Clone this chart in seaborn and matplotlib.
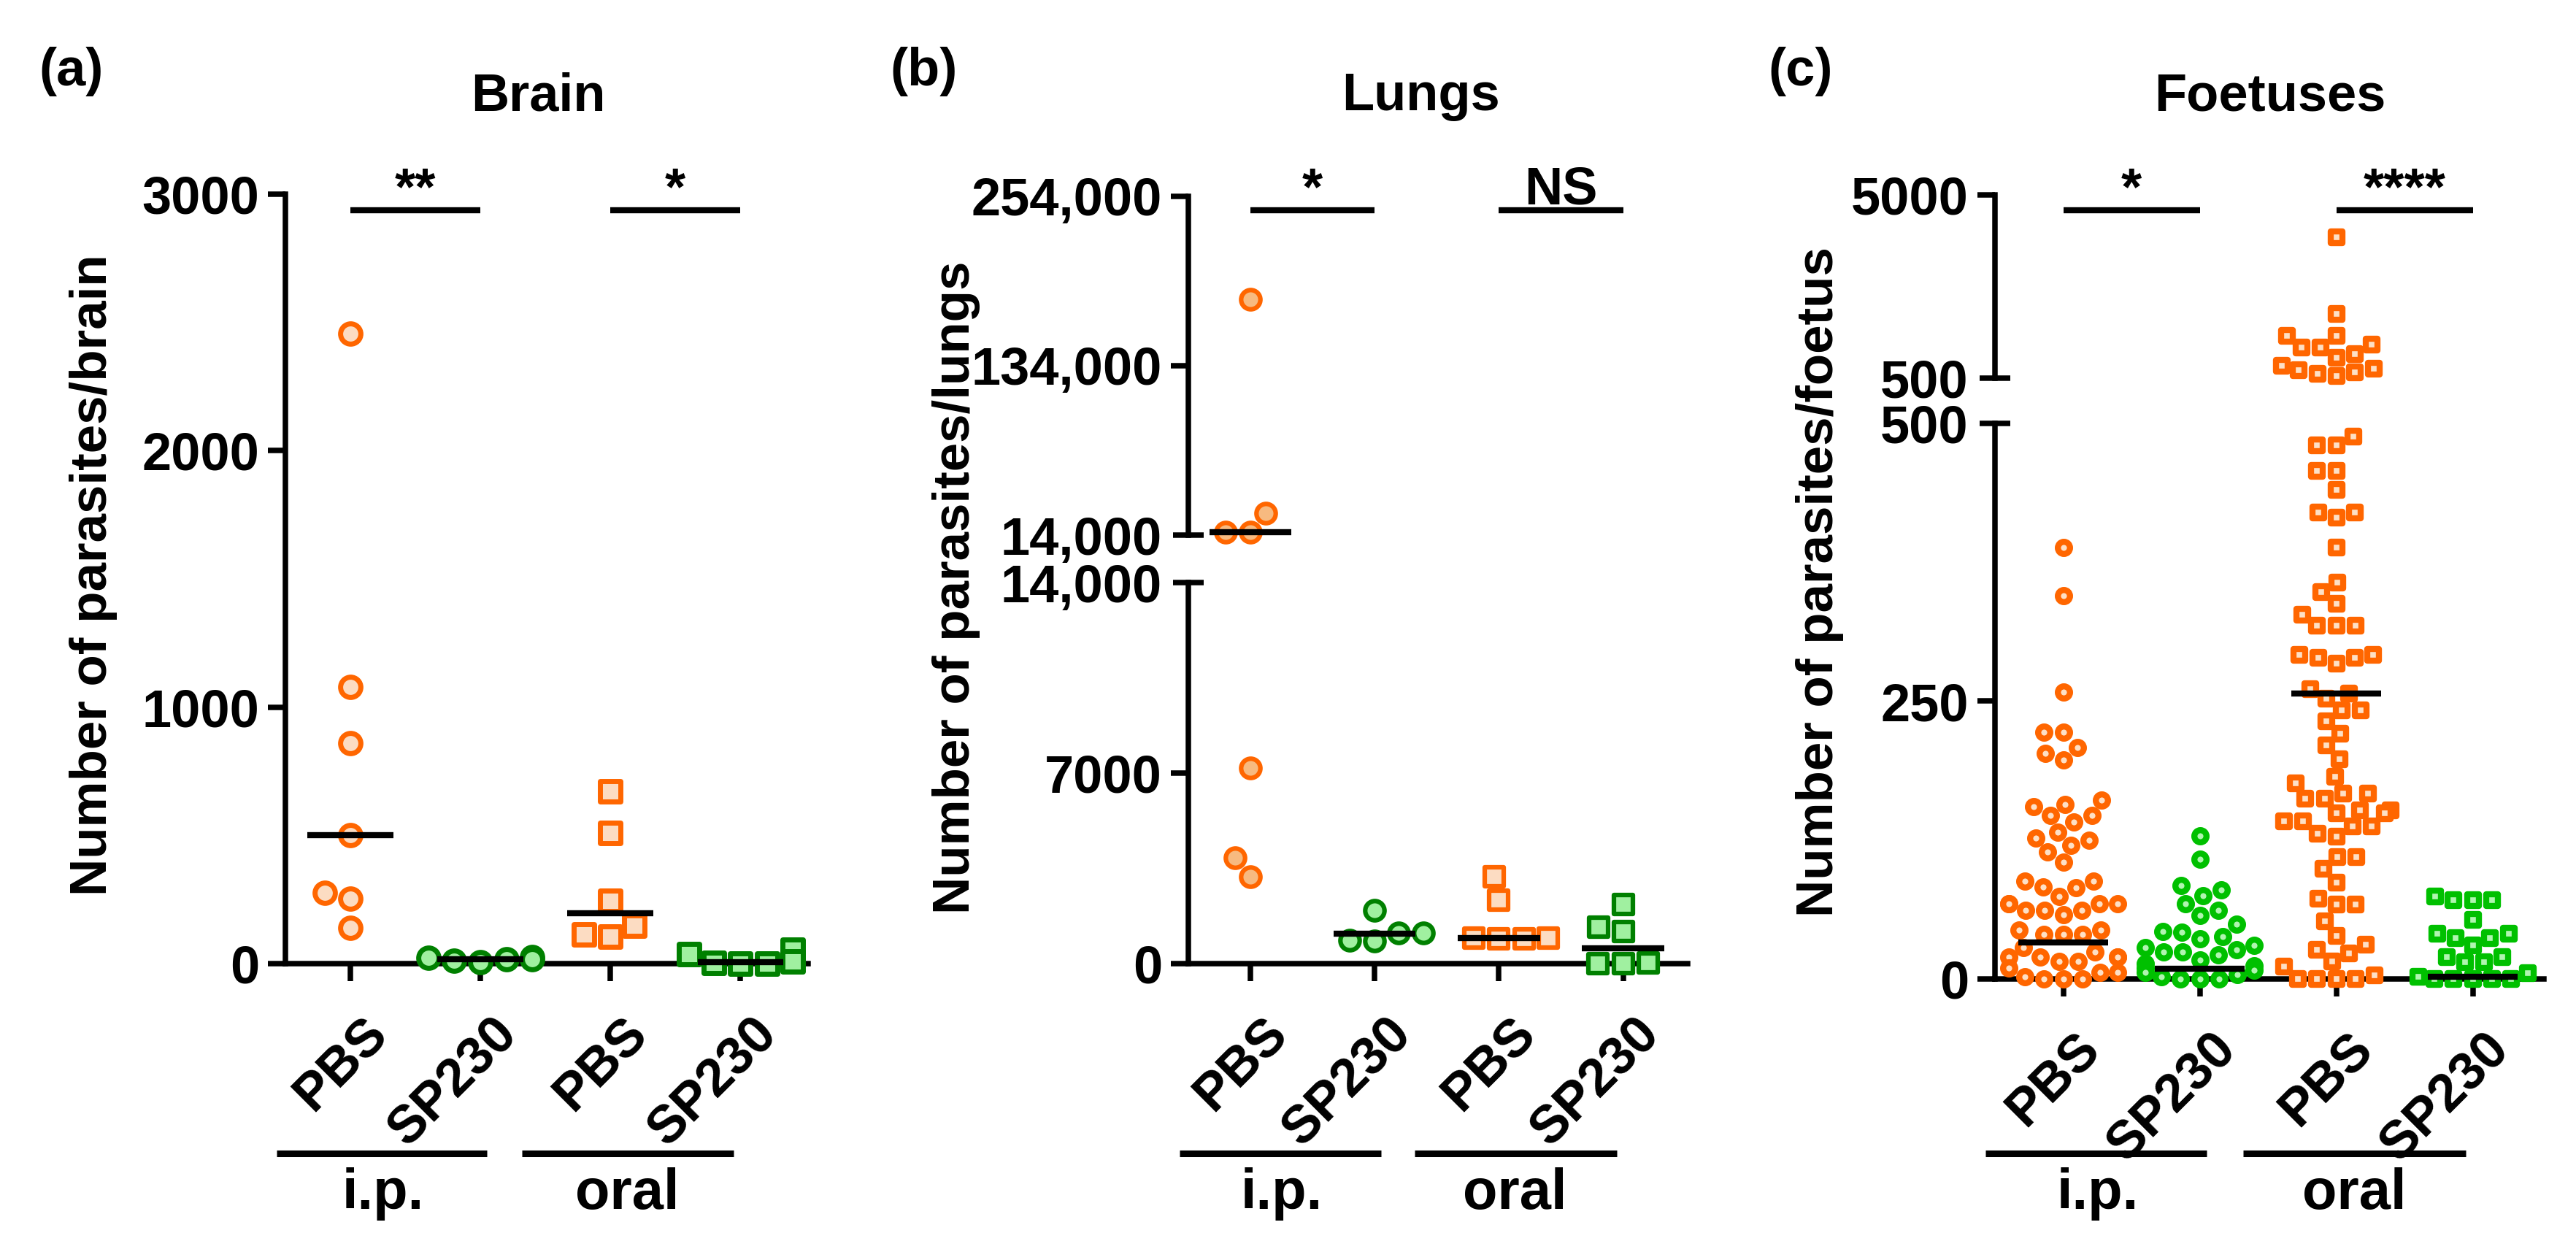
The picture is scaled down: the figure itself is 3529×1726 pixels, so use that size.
import numpy as np
import pandas as pd
import matplotlib
matplotlib.use("Agg")
import matplotlib.pyplot as plt
import matplotlib.transforms as mtransforms
import seaborn as sns

# groups in plotting order
groups = ["PBS_ip", "SP230_ip", "PBS_oral", "SP230_oral"]
tick_names = ["PBS", "SP230", "PBS", "SP230"]
routes = ["i.p.", "oral"]

# (a) brain
brain_pbs_ip = [2456, 1080, 860, 500, 276, 254, 140]
brain_sp230_ip = [27, 22, 18, 16, 12, 5]
brain_pbs_oral = [672, 510, 245, 148, 114, 105]
brain_sp230_oral = [55, 38, 8, 3, 0, 0]
brain_medians = [500, 16, 196, 5]
brain_sig = ["**", "*"]
brain_ticks = [0, 1000, 2000, 3000]

# (b) lungs (broken axis at 14,000)
lungs_pbs_ip = [181000, 29500, 16000, 16000, 7200, 3900, 3200]
lungs_sp230_ip = [1960, 1130, 1120, 870, 840]
lungs_pbs_oral = [3190, 2330, 950, 940, 910, 900]
lungs_sp230_oral = [2170, 1340, 1180, 30, 10, 0]
lungs_medians = [16000, 1100, 940, 560]
lungs_sig = ["*", "NS"]
lungs_low_ticks = [0, 7000]
lungs_high_ticks = [134000, 254000]
lungs_break = 14000

# (c) foetuses (broken axis at 500)
foetus_pbs_ip = [388, 345, 258, 222, 222, 208, 203, 197,
                 161, 157, 155, 147, 147, 141, 132, 127, 125, 120, 114, 105,
                 88, 88, 83, 82, 74, 68, 68, 68, 68, 62, 62, 62, 58,
                 44, 44, 40, 40, 40, 28, 24, 20, 20, 20, 20, 16, 16,
                 10, 6, 6, 2, 0, 0, 0]
foetus_sp230_ip = [129, 108, 84, 80, 75, 68, 62, 57, 49, 43, 42, 38, 36,
                   30, 28, 26, 24, 24, 22, 17, 14, 12, 10, 8, 6, 4, 2, 0, 0, 0]
foetus_pbs_oral = [3960, 2080, 1540, 1540, 1320, 1250, 1250, 1100, 1000,
                   800, 730, 700, 650, 600, 550,
                   488, 480, 480, 457, 457, 440, 420, 420, 415, 388,
                   357, 348, 338, 328, 318, 318, 318, 292, 292, 289, 289, 284,
                   261, 257, 252, 242, 242, 232, 221, 210, 198,
                   182, 176, 167, 167, 162, 162, 152, 152, 149, 149, 142, 142,
                   137, 137, 131, 128, 110, 110, 99, 87, 72, 67, 67, 52,
                   39, 31, 26, 23, 16, 11, 3, 0, 0, 0, 0]
foetus_sp230_oral = [74, 71, 71, 71, 53, 41, 41, 37, 37, 30, 20, 20, 15, 15,
                     5, 2, 0, 0, 0, 0, 0]
foetus_medians = [33, 9, 257, 2]
foetus_sig = ["*", "****"]
foetus_low_ticks = [0, 250]
foetus_high_ticks = [5000]
foetus_break = 500

# ---- layout helpers (pixels of the 3530x1726 canvas) ----
W, H, DPI = 3530, 1726, 100


def px_rect(left, right, top, bottom):
    return [left / W, 1 - bottom / H, (right - left) / W, (bottom - top) / H]


def fx(p):
    return p / W


def fy(p):
    return 1 - p / H


def fmt(v):
    return f"{v:,}" if v >= 10000 else f"{v}"


def make_frame(values):
    rows = []
    for g, vals in zip(groups, values):
        rows += [(g, v) for v in vals]
    return pd.DataFrame(rows, columns=["group", "value"])


sns.set_style("ticks")
plt.rcParams["font.family"] = ["Liberation Sans", "DejaVu Sans"]
plt.rcParams["font.weight"] = "bold"
plt.rcParams["axes.linewidth"] = 5.4
for key in ["text.color", "axes.labelcolor", "axes.edgecolor",
            "xtick.color", "ytick.color"]:
    plt.rcParams[key] = "black"

fig = plt.figure(figsize=(W / DPI, H / DPI), dpi=DPI)
FS = 52
LW = 5.4


def draw_panel(letter, letter_x, title, title_x, ylabel, ylab_xy, values,
               medians, sig, segs, left, right, style):
    df = make_frame(values)
    axes = []
    for k, seg in enumerate(segs):
        top, bottom, lo, hi, major, minor = seg
        ax = fig.add_axes(px_rect(left, right, top, bottom))
        if k == 0:
            sub = df[(df.value >= lo) & (df.value <= hi)]
        else:
            sub = df[(df.value > lo) & (df.value <= hi)]
        for i, g in enumerate(groups):
            part = sub[sub.group == g]
            if part.empty:
                continue
            sns.swarmplot(data=part, x="group", y="value", order=groups, ax=ax,
                          marker="o" if i < 2 else "s", size=style["ms"],
                          color=style["fills"][i], edgecolor=style["edges"][i],
                          linewidth=style["lw"], zorder=3, clip_on=False,
                          warn_thresh=1)
        ax.set_xlim(-0.5, 3.52)
        ax.set_ylim(lo, hi)
        ax.set_xlabel("")
        ax.set_ylabel("")
        sns.despine(ax=ax)
        ax.set_yticks(major)
        ax.set_yticklabels([fmt(v) for v in major])
        if minor:
            ax.set_yticks(minor, minor=True)
            ax.set_yticklabels([fmt(v) for v in minor], minor=True)
        ax.tick_params(axis="y", which="major", direction="out", length=17,
                       width=LW, pad=9, labelsize=FS, colors="black")
        ax.tick_params(axis="y", which="minor", direction="inout", length=30,
                       width=LW, pad=11, labelsize=FS, colors="black")
        if k == 0:
            ax.set_xticks(range(len(groups)))
            ax.set_xticklabels(tick_names)
            ax.tick_params(axis="x", direction="out", length=17, width=LW,
                           pad=27, labelsize=FS, colors="black")
            shift = mtransforms.ScaledTranslation(0.15, 0, fig.dpi_scale_trans)
            for lab in ax.get_xticklabels():
                lab.set_rotation(45)
                lab.set_ha("right")
                lab.set_va("top")
                lab.set_rotation_mode("anchor")
                lab.set_transform(lab.get_transform() + shift)
        else:
            ax.set_xticks([])
            ax.spines["bottom"].set_visible(False)
        axes.append(ax)

    # medians
    for i, m in enumerate(medians):
        ax = axes[0] if m <= segs[0][3] else axes[1]
        ax.hlines(m, i - 0.33, i + 0.33, color="black", lw=6, zorder=4,
                  clip_on=False)

    # significance bars above
    top_ax = axes[-1]
    trans = mtransforms.blended_transform_factory(top_ax.transData, fig.transFigure)
    for j, s in enumerate(sig):
        x0, x1 = 2 * j, 2 * j + 1
        top_ax.plot([x0, x1], [fy(288), fy(288)], transform=trans, color="black",
                    lw=6, clip_on=False, solid_capstyle="butt")
        top_ax.text((x0 + x1) / 2, fy(280), s, transform=trans, ha="center",
                    va="baseline", fontsize=FS)

    # route lines below
    bot_ax = axes[0]
    trans = mtransforms.blended_transform_factory(bot_ax.transData, fig.transFigure)
    spans = [(-0.57, 1.05), (1.32, 2.95)]
    label_x = [0.25, 2.13]
    for (x0, x1), lx, r in zip(spans, label_x, routes):
        bot_ax.plot([x0, x1], [fy(1580), fy(1580)], transform=trans,
                    color="black", lw=6.5, clip_on=False, solid_capstyle="butt")
        bot_ax.text(lx, fy(1635), r, transform=trans, ha="center", va="center",
                    fontsize=56)

    fig.text(fx(ylab_xy[0]), fy(ylab_xy[1]), ylabel, rotation=90, ha="center",
             va="center", fontsize=51)
    fig.text(fx(title_x), fy(132), title, ha="center", va="center", fontsize=FS)
    fig.text(fx(letter_x), fy(98), letter, ha="center", va="center", fontsize=FS)


orange = "#FF6600"
style_a = dict(ms=20, lw=5,
               fills=["#FCDCC2", "#A0F0A0", "#FCDCC2", "#A0F0A0"],
               edges=[orange, "#008000", orange, "#008000"])
style_b = dict(ms=19, lw=4.5,
               fills=["#F7BA80", "#A0F0A0", "#FCDCC2", "#A0F0A0"],
               edges=[orange, "#008000", orange, "#008000"])
style_c = dict(ms=12, lw=6,
               fills=["#FDE0C6", "#B0F5B0", "#FDE0C6", "#B0F5B0"],
               edges=[orange, "#00C000", orange, "#00C000"])

draw_panel("(a)", 98, "Brain", 737, "Number of parasites/brain", (128, 788),
           [brain_pbs_ip, brain_sp230_ip, brain_pbs_oral, brain_sp230_oral],
           brain_medians, brain_sig,
           [(266, 1320, 0, 3000, brain_ticks, [])],
           391, 1107, style_a)

draw_panel("(b)", 1266, "Lungs", 1947, "Number of parasites/lungs", (1310, 805),
           [lungs_pbs_ip, lungs_sp230_ip, lungs_pbs_oral, lungs_sp230_oral],
           lungs_medians, lungs_sig,
           [(798, 1320, 0, lungs_break, lungs_low_ticks, [lungs_break]),
            (269, 733, lungs_break, 254000, lungs_high_ticks, [lungs_break])],
           1628, 2312, style_b)

draw_panel("(c)", 2467, "Foetuses", 3110, "Number of parasites/foetus", (2493, 797),
           [foetus_pbs_ip, foetus_sp230_ip, foetus_pbs_oral, foetus_sp230_oral],
           foetus_medians, foetus_sig,
           [(580, 1341, 0, foetus_break, foetus_low_ticks, [foetus_break]),
            (267, 518, foetus_break, 5000, foetus_high_ticks, [foetus_break])],
           2733, 3485, style_c)

fig.savefig("out.png", dpi=DPI)
